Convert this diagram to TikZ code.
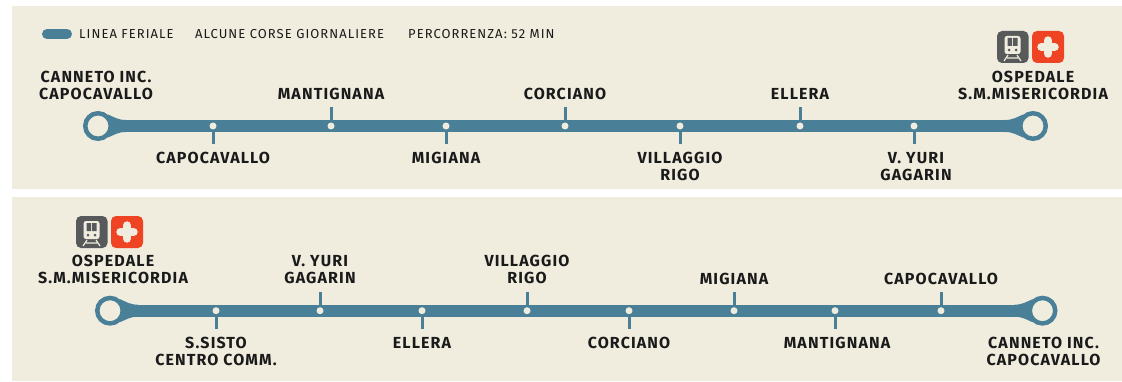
\documentclass[tikz,border=0pt]{standalone}
\usepackage{fontspec}
\setmainfont{Fira Sans}
\usetikzlibrary{backgrounds}
\definecolor{cream}{HTML}{F0EDDF}
\definecolor{route}{HTML}{4A7F98}
\definecolor{ink}{HTML}{1A1A1A}
\definecolor{traingrey}{HTML}{58595B}
\definecolor{crossred}{HTML}{EF4423}
\newfontfamily\stopfont[LetterSpace=7]{Fira Sans}
\newfontfamily\legendfont[LetterSpace=8]{Fira Sans}
\tikzstyle{panel} = [fill=cream]
\tikzstyle{line} = [draw=route, line width=12pt]
\tikzstyle{stoptick} = [draw=route, line width=3pt]
\tikzstyle{stopdot} = [circle, fill=cream, minimum size=7pt, inner sep=0pt]
\tikzstyle{terminal} = [circle, draw=route, fill=cream, line width=4.5pt, minimum size=25.5pt, inner sep=0pt]
\tikzstyle{stopname} = [font=\stopfont\bfseries\fontsize{16}{17.5}\selectfont, text=ink, align=center, inner sep=0pt]
\tikzstyle{legendtext} = [font=\legendfont\fontsize{13}{14}\selectfont, text=ink, anchor=west, inner sep=0pt]
\tikzset{
  flare/.pic={\fill[route] (10,11.5) .. controls (16,9) and (20,6) .. (28,6) -- (28,-6)
    .. controls (20,-6) and (16,-9) .. (10,-11.5) -- cycle;},
  icons/.pic={
    % train
    \fill[traingrey, rounded corners=5pt] (-35,-16) rectangle (-3.5,16);
    \fill[cream, rounded corners=2.5pt] (-27.5,11) rectangle (-11.5,-7);
    \fill[traingrey] (-24.5,9) rectangle (-20,1) (-19,9) rectangle (-14.5,1);
    \fill[traingrey] (-23,-3) circle (1.5) (-16,-3) circle (1.5);
    \draw[cream, line width=1.2pt] (-24,-8) -- (-28,-14) (-15,-8) -- (-11,-14) (-25,-11) -- (-14,-11);
    % hospital
    \fill[crossred, rounded corners=5pt] (0,-16) rectangle (32,16);
    \draw[cream, line width=8.5pt, line cap=round] (9.5,0) -- (22.5,0) (16,-6.5) -- (16,6.5);
  }
}
\begin{document}
\begin{tikzpicture}[x=1pt, y=1pt, node distance=32pt]
  \useasboundingbox (0,0) rectangle (1122,381);
  % Place nodes
  \node [legendtext] (leg1) at (79,347) {LINEA FERIALE};
  \node [legendtext] (leg2) at (195,347) {ALCUNE CORSE GIORNALIERE};
  \node [legendtext] (leg3) at (408,347) {PERCORRENZA: 52 MIN};
  \coordinate (barA) at (47,347);
  \coordinate (barB) at (67,347);
  % upper line
  \node [terminal] (startA) at (98,255) {};
  \node [terminal] (endA) at (1033,255) {};
  \node [stopdot] (a1) at (213,255) {};
  \node [stopdot] (a2) at (331,255) {};
  \node [stopdot] (a3) at (446,255) {};
  \node [stopdot] (a4) at (565,255) {};
  \node [stopdot] (a5) at (680,255) {};
  \node [stopdot] (a6) at (800,255) {};
  \node [stopdot] (a7) at (914,255) {};
  \node [stopname, above of=startA, node distance=40.5pt, xshift=-2pt] (nameStartA) {CANNETO INC.\\CAPOCAVALLO};
  \node [stopname, above of=endA, node distance=40.5pt] (nameEndA) {OSPEDALE\\S.M.MISERICORDIA};
  \node [stopname, below of=a1] (name1) {CAPOCAVALLO};
  \node [stopname, above of=a2] (name2) {MANTIGNANA};
  \node [stopname, below of=a3] (name3) {MIGIANA};
  \node [stopname, above of=a4] (name4) {CORCIANO};
  \node [stopname, below of=a5, node distance=40.5pt] (name5) {VILLAGGIO\\RIGO};
  \node [stopname, above of=a6] (name6) {ELLERA};
  \node [stopname, below of=a7, node distance=40.5pt, xshift=2pt] (name7) {V. YURI\\GAGARIN};
  \coordinate [below of=a1, node distance=18pt] (t1);
  \coordinate [above of=a2, node distance=19pt] (t2);
  \coordinate [below of=a3, node distance=18pt] (t3);
  \coordinate [above of=a4, node distance=19pt] (t4);
  \coordinate [below of=a5, node distance=18pt] (t5);
  \coordinate [above of=a6, node distance=19pt] (t6);
  \coordinate [below of=a7, node distance=18pt] (t7);
  \pic at (1032,334) {icons};
  % lower line
  \node [terminal] (startB) at (110,70.3) {};
  \node [terminal] (endB) at (1042.5,70.3) {};
  \node [stopdot] (b1) at (216,70.3) {};
  \node [stopdot] (b2) at (320,70.3) {};
  \node [stopdot] (b3) at (422,70.3) {};
  \node [stopdot] (b4) at (527,70.3) {};
  \node [stopdot] (b5) at (629,70.3) {};
  \node [stopdot] (b6) at (734,70.3) {};
  \node [stopdot] (b7) at (835,70.3) {};
  \node [stopdot] (b8) at (941,70.3) {};
  \node [stopname, above of=startB, node distance=41pt, xshift=3pt] (nameStartB) {OSPEDALE\\S.M.MISERICORDIA};
  \node [stopname, below of=endB, node distance=41pt, xshift=1pt] (nameEndB) {CANNETO INC.\\CAPOCAVALLO};
  \node [stopname, below of=b1, node distance=41pt] (lab1) {S.SISTO\\CENTRO COMM.};
  \node [stopname, above of=b2, node distance=41pt] (lab2) {V. YURI\\GAGARIN};
  \node [stopname, below of=b3] (lab3) {ELLERA};
  \node [stopname, above of=b4, node distance=41pt] (lab4) {VILLAGGIO\\RIGO};
  \node [stopname, below of=b5] (lab5) {CORCIANO};
  \node [stopname, above of=b6] (lab6) {MIGIANA};
  \node [stopname, below of=b7, xshift=2pt] (lab7) {MANTIGNANA};
  \node [stopname, above of=b8] (lab8) {CAPOCAVALLO};
  \coordinate [below of=b1, node distance=18pt] (u1);
  \coordinate [above of=b2, node distance=19pt] (u2);
  \coordinate [below of=b3, node distance=18pt] (u3);
  \coordinate [above of=b4, node distance=19pt] (u4);
  \coordinate [below of=b5, node distance=18pt] (u5);
  \coordinate [above of=b6, node distance=19pt] (u6);
  \coordinate [below of=b7, node distance=18pt] (u7);
  \coordinate [above of=b8, node distance=19pt] (u8);
  \pic at (111,149) {icons};
  % Draw edges
  \begin{pgfonlayer}{background}
    \fill [panel] (12,192) rectangle (1122,375);
    \fill [panel] (12,0) rectangle (1122,184);
    \draw [route, line width=10pt, line cap=round] (barA) -- (barB);
    \path [line] (startA) -- (endA);
    \path [line] (startB) -- (endB);
    \pic at (startA) {flare};
    \pic [xscale=-1] at (endA) {flare};
    \pic at (startB) {flare};
    \pic [xscale=-1] at (endB) {flare};
  \end{pgfonlayer}
  \foreach \s/\t in {a1/t1, a2/t2, a3/t3, a4/t4, a5/t5, a6/t6, a7/t7,
      b1/u1, b2/u2, b3/u3, b4/u4, b5/u5, b6/u6, b7/u7, b8/u8}
    \path [stoptick] (\s) -- (\t);
\end{tikzpicture}
\end{document}
